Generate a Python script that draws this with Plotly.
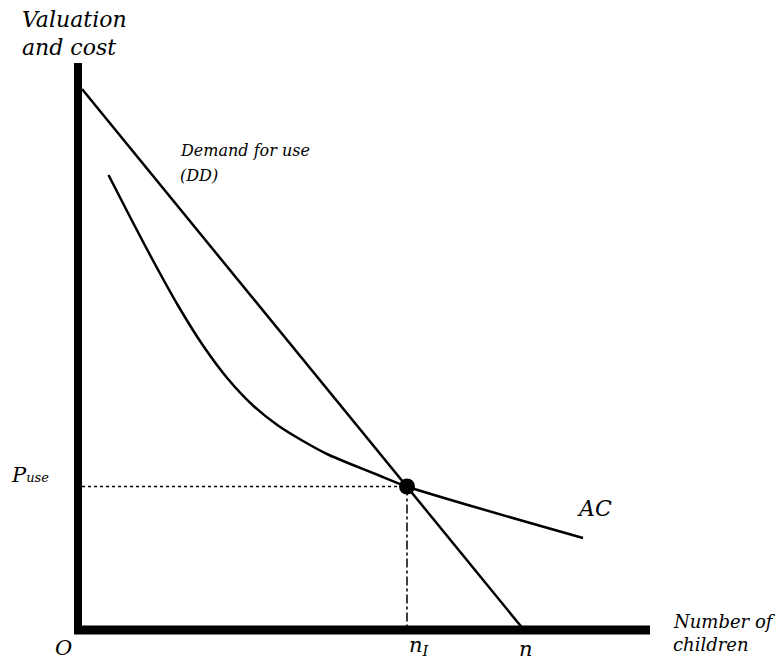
import plotly.graph_objects as go

# Axis extents (data units)
x_axis_end = 11.44
y_axis_end = 11.34

# Demand for use (DD): straight line
dd_x = [0.08, 8.92]
dd_y = [10.82, 0.0]

# Average cost curve (AC)
ac_x = [0.61, 1.00, 1.50, 2.00, 2.50, 3.00, 3.50, 4.00, 4.50, 5.00, 5.50, 6.00, 6.58, 10.10]
ac_y = [9.10, 8.34, 7.39, 6.49, 5.69, 5.02, 4.49, 4.09, 3.78, 3.51, 3.30, 3.10, 2.87, 1.84]

# Equilibrium
n1 = 6.58
p_use = 2.87
n_end = 8.92

FONT = "DejaVu Serif"

fig = go.Figure()

# axes
fig.add_trace(go.Scatter(x=[0, 0], y=[0, y_axis_end], mode="lines",
                         line=dict(color="black", width=8), hoverinfo="skip"))
fig.add_trace(go.Scatter(x=[-0.08, x_axis_end], y=[0, 0], mode="lines",
                         line=dict(color="black", width=9), hoverinfo="skip"))

# guide lines
fig.add_trace(go.Scatter(x=[0.08, n1], y=[p_use, p_use], mode="lines",
                         line=dict(color="black", width=1.5, dash="dot"), hoverinfo="skip"))
fig.add_trace(go.Scatter(x=[n1, n1], y=[p_use, 0], mode="lines",
                         line=dict(color="black", width=1.5, dash="dashdot"), hoverinfo="skip"))

# demand
fig.add_trace(go.Scatter(x=dd_x, y=dd_y, mode="lines",
                         line=dict(color="black", width=2.5), hoverinfo="skip"))
# AC
fig.add_trace(go.Scatter(x=ac_x, y=ac_y, mode="lines",
                         line=dict(color="black", width=2.5, shape="spline", smoothing=0.8),
                         hoverinfo="skip"))
# point
fig.add_trace(go.Scatter(x=[n1], y=[p_use], mode="markers",
                         marker=dict(color="black", size=16), hoverinfo="skip"))

def ann(x, y, text, size=16, xanchor="left", yanchor="middle"):
    fig.add_annotation(x=x, y=y, text=text, showarrow=False, xanchor=xanchor,
                       yanchor=yanchor, font=dict(family=FONT, size=size, color="black"))

ann(-1.16, 12.22, "<i>Valuation</i>", size=22)
ann(-1.16, 11.66, "<i>and cost</i>", size=22)
ann(2.0, 9.6, "<i>Demand for use</i>", size=16)
ann(2.0, 9.1, "<i>(DD)</i>", size=16)
ann(9.94, 2.44, "<i>AC</i>", size=22)
ann(-1.38, 3.1, "<i>P</i><span style='font-size:13px'><i>use</i></span>", size=21)
ann(-0.30, -0.36, "<i>O</i>", size=21, xanchor="center")
ann(6.82, -0.32, "<i>n</i><sub><i>I</i></sub>", size=21, xanchor="center")
ann(8.96, -0.38, "<i>n</i>", size=21, xanchor="center")
ann(11.86, 0.18, "<i>Number of</i>", size=18)
ann(11.86, -0.28, "<i>children</i>", size=18)

fig.update_layout(
    width=782, height=662,
    margin=dict(l=0, r=0, t=0, b=0),
    paper_bgcolor="white", plot_bgcolor="white",
    showlegend=False,
    xaxis=dict(range=[-1.56, 14.08], visible=False, fixedrange=True),
    yaxis=dict(range=[-0.64, 12.60], visible=False, fixedrange=True),
)

fig.write_html("out.html",
               config={"displayModeBar": False},
               post_script="document.body.style.margin='0';document.body.style.overflow='hidden';")
